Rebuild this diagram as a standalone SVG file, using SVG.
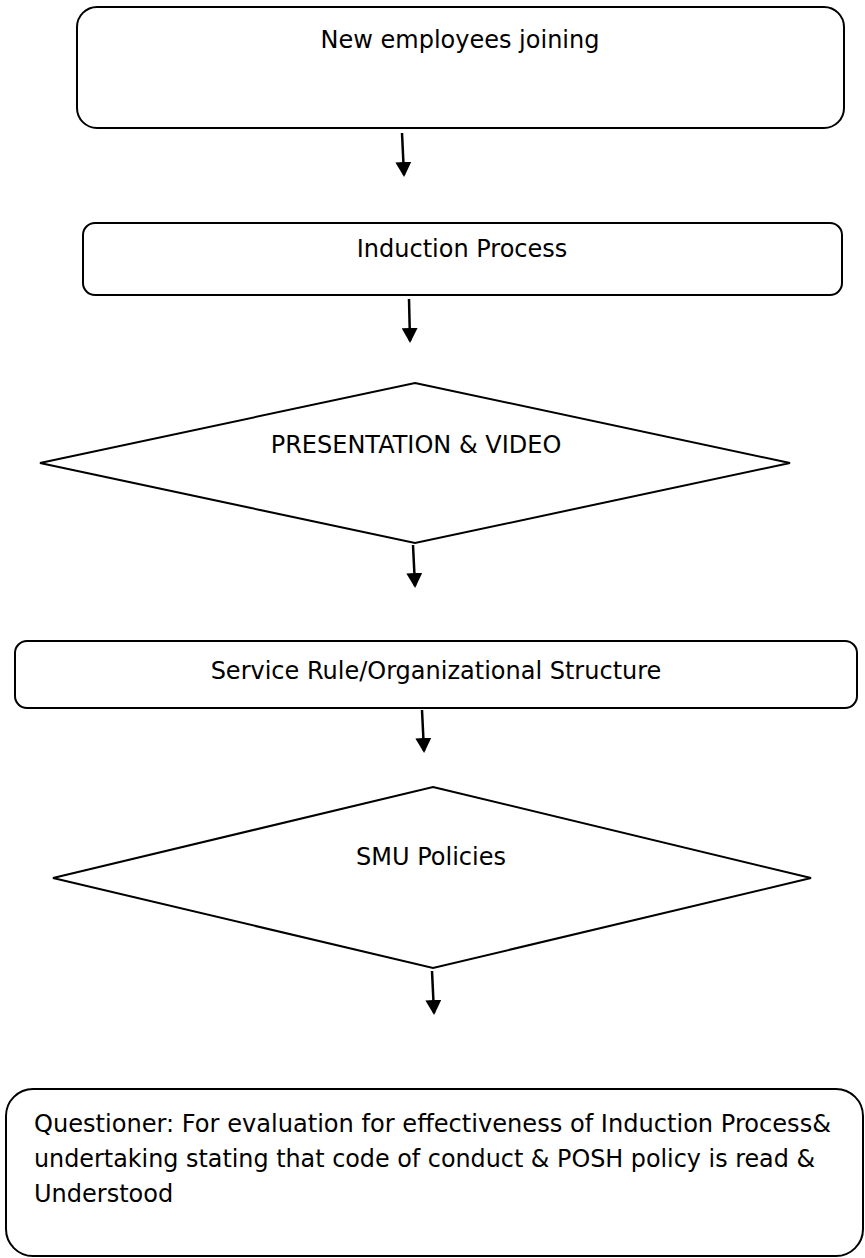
<svg xmlns="http://www.w3.org/2000/svg" width="865" height="1258" viewBox="0 0 865 1258">
<defs>
<style>
.box{fill:#fff;stroke:#000;stroke-width:2}
.t{font-family:"DejaVu Sans","Liberation Sans",sans-serif;font-size:24px;fill:#000}
.c{text-anchor:middle}
.con{stroke:#000;stroke-width:2.5;fill:none}
</style>
<marker id="ah" viewBox="0 0 15 16" refX="13" refY="8" markerWidth="15" markerHeight="16" markerUnits="userSpaceOnUse" orient="auto">
<path d="M0,0 L15,8 L0,16 z" fill="#000"/>
</marker>
</defs>
<rect width="865" height="1258" fill="#fff"/>
<g id="n1">
<rect class="box" x="77" y="7" width="767" height="121" rx="20"/>
<text class="t c" x="460" y="48">New employees joining</text>
</g>
<g id="n2">
<rect class="box" x="83" y="223" width="759" height="72" rx="12"/>
<text class="t c" x="462" y="257">Induction Process</text>
</g>
<g id="n3">
<polygon class="box" points="415,383 790,463 415,543 40,463"/>
<text class="t c" x="416" y="453">PRESENTATION &amp; VIDEO</text>
</g>
<g id="n4">
<rect class="box" x="15" y="641" width="842" height="67" rx="12"/>
<text class="t c" x="436" y="679">Service Rule/Organizational Structure</text>
</g>
<g id="n5">
<polygon class="box" points="433,787 811,878 433,968 53,878"/>
<text class="t c" x="431" y="865">SMU Policies</text>
</g>
<g id="n6">
<rect class="box" x="6" y="1089" width="857" height="167" rx="27"/>
<text class="t" x="34" y="1132" textLength="797" lengthAdjust="spacingAndGlyphs">Questioner: For evaluation for effectiveness of Induction Process&amp;</text>
<text class="t" x="34" y="1167" textLength="781" lengthAdjust="spacingAndGlyphs">undertaking stating that code of conduct &amp; POSH policy is read &amp;</text>
<text class="t" x="34" y="1202">Understood</text>
</g>
<g id="connectors">
<line class="con" x1="402" y1="133" x2="404" y2="175" stroke-width="4" marker-end="url(#ah)"/>
<line class="con" x1="409" y1="299" x2="410" y2="341" marker-end="url(#ah)"/>
<line class="con" x1="413" y1="545" x2="415" y2="586" marker-end="url(#ah)"/>
<line class="con" x1="422" y1="710" x2="424" y2="751" marker-end="url(#ah)"/>
<line class="con" x1="432" y1="971" x2="434" y2="1013" marker-end="url(#ah)"/>
</g>
</svg>
